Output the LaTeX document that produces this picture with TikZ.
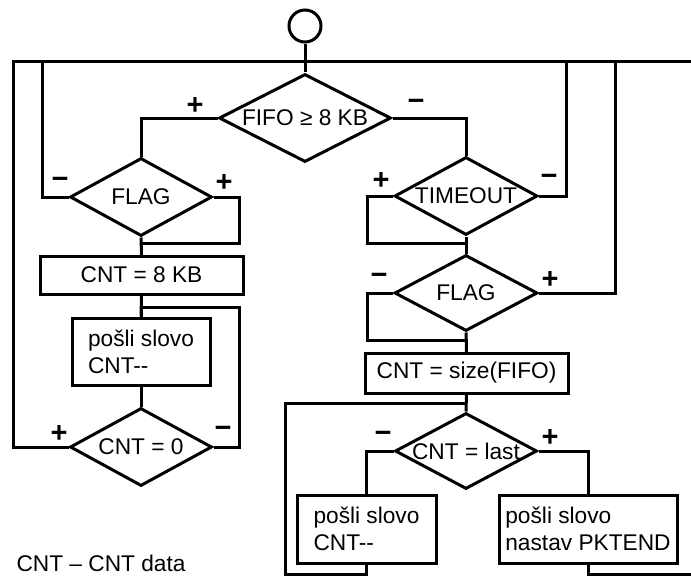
\documentclass[tikz,border=0pt]{standalone}
\usepackage{fontspec}
\setmainfont{Liberation Sans}
\usetikzlibrary{shapes.geometric}
\tikzset{
  decision/.style={diamond,draw,inner sep=0pt,minimum width=142pt,minimum height=78pt},
  proc/.style={rectangle,draw,inner sep=0pt},
  sign/.style={inner sep=0pt,font=\bfseries\fontsize{29}{29}\selectfont},
}
\newcommand{\dtext}[1]{\makebox[0pt]{#1}}

\begin{document}
\begin{tikzpicture}[x=1pt,y=-1pt,line width=3pt,font=\fontsize{22.7}{27}\selectfont]
  \useasboundingbox (0,0) rectangle (691,576);

  % start and the return bus
  \node[circle,draw,minimum size=32pt,inner sep=0pt] (start) at (305,26) {};
  \coordinate (busL) at (13,61);
  \coordinate (busA) at (42,61);
  \coordinate (busB) at (566,61);
  \coordinate (busC) at (615,61);
  \coordinate (busR) at (691,61);

  \node[decision,minimum width=172pt,minimum height=88pt] (fifo) at (305,118) {\dtext{FIFO ≥ 8 KB}};

  % left branch
  \node[decision] (flagL) at (141,197) {\dtext{FLAG}};
  \node[proc,minimum width=203pt,minimum height=38pt] (cnt8) at (141.5,275) {CNT = 8 KB};
  \node[proc,align=left,minimum width=138pt,minimum height=67pt] (sendL) at (141,351.5) {pošli slovo\\CNT-{}-};
  \node[decision] (zero) at (141,447) {\dtext{CNT = 0}};
  \coordinate (jA) at (239,243);
  \coordinate (jB) at (239,307);

  % right branch
  \node[decision,minimum width=143pt] (tout) at (466,196) {\dtext{TIMEOUT}};
  \node[decision,minimum width=143pt,minimum height=76pt] (flagR) at (466,293) {\dtext{FLAG}};
  \node[proc,minimum width=203pt,minimum height=40pt] (size) at (466.5,373) {CNT = size(FIFO)};
  \node[decision,minimum height=76pt] (last) at (466,451) {\dtext{CNT = last}};
  \node[proc,align=left,minimum width=139pt,minimum height=68pt] (sendM) at (366.5,529) {pošli slovo\\CNT-{}-};
  \node[proc,align=left,minimum width=178pt,minimum height=68pt] (sendE) at (588,529) {pošli slovo\\nastav PKTEND};
  \coordinate (jC) at (367,243);
  \coordinate (jD) at (367,340);
  \coordinate (jE) at (466,403);
  \coordinate (jF) at (285,574);
  \coordinate (out) at (691,574);

  \node[anchor=base west,inner sep=0pt] (legend) at (15,571) {CNT – CNT data};

  % connectors
  \draw (start) -- (fifo);
  \draw (zero.west) -| (busL) -- (busR);
  \draw (fifo.west) -| (flagL.north);
  \draw (fifo.east) -| (tout.north);
  \draw (flagL.west) -| (busA);
  \draw (flagL.east) -| (jA) -| (cnt8.north);
  \draw (flagL.south) -- (cnt8.north);
  \draw (cnt8.south) -- (sendL.north);
  \draw (zero.east) -| (jB) -| (sendL.north);
  \draw (sendL.south) -- (zero.north);
  \draw (tout.east) -| (busB);
  \draw (tout.west) -| (jC) -| (flagR.north);
  \draw (tout.south) -- (flagR.north);
  \draw (flagR.east) -| (busC);
  \draw (flagR.west) -| (jD) -| (size.north);
  \draw (flagR.south) -- (size.north);
  \draw (size.south) -- (last.north);
  \draw (sendM.south) |- (jF) |- (jE);
  \draw (last.west) -| (sendM.north);
  \draw (last.east) -| (sendE.north);
  \draw (sendE.south) |- (out);

  % branch signs
  \node[sign] (fifoP) at (195,106) {+};
  \node[sign] (fifoM) at (416,105) {−};
  \node[sign] (flagLM) at (60,183) {−};
  \node[sign] (flagLP) at (224,183) {+};
  \node[sign] (toutP) at (381,181) {+};
  \node[sign] (toutM) at (549,180) {−};
  \node[sign] (flagRM) at (379,279) {−};
  \node[sign] (flagRP) at (550,280) {+};
  \node[sign] (lastM) at (383,437) {−};
  \node[sign] (lastP) at (550,438) {+};
  \node[sign] (zeroP) at (59,434) {+};
  \node[sign] (zeroM) at (223,432) {−};
\end{tikzpicture}
\end{document}
